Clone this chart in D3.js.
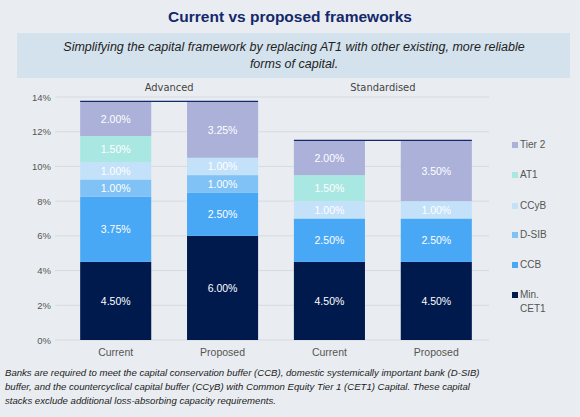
<!DOCTYPE html>
<html><head><meta charset="utf-8">
<script src="https://cdn.jsdelivr.net/npm/d3@7"></script>
<style>body{margin:0;background:#e9edf1;font-family:"Liberation Sans",Arial,sans-serif}</style>
</head><body>
<svg width="580" height="417"></svg>
<script>
var bars = ["Current", "Proposed", "Current ", "Proposed "];
var groups = ["Advanced", "Standardised"];
var series = ["Min. CET1", "CCB", "D-SIB", "CCyB", "AT1", "Tier 2"];
var minCet1 = [4.5, 6.0, 4.5, 4.5];
var ccb = [3.75, 2.5, 2.5, 2.5];
var dsib = [1.0, 1.0, 0, 0];
var ccyb = [1.0, 1.0, 1.0, 1.0];
var at1 = [1.5, 0, 1.5, 0];
var tier2 = [2.0, 3.25, 2.0, 3.5];
var yTicks = [0, 2, 4, 6, 8, 10, 12, 14];
var colors = ["#001a4d", "#48a8f6", "#80c2f6", "#c4e1fa", "#a9e7e2", "#abb1d9"];

var svg = d3.select("svg");
svg.append("rect").attr("width", 580).attr("height", 417).attr("fill", "#e9edf1");
svg.append("text").attr("x", 290).attr("y", 22).attr("text-anchor", "middle")
  .attr("font-size", 15.5).attr("font-weight", "bold").attr("fill", "#14286b")
  .text("Current vs proposed frameworks");
svg.append("rect").attr("x", 17).attr("y", 33).attr("width", 553).attr("height", 45).attr("fill", "#d4e2ed");
svg.append("text").attr("x", 294).attr("y", 51).attr("text-anchor", "middle")
  .attr("font-size", 12.5).attr("font-style", "italic").attr("fill", "#222")
  .text("Simplifying the capital framework by replacing AT1 with other existing, more reliable");
svg.append("text").attr("x", 294).attr("y", 68).attr("text-anchor", "middle")
  .attr("font-size", 12.5).attr("font-style", "italic").attr("fill", "#222")
  .text("forms of capital.");

var x = d3.scaleBand().domain(bars).range([62, 490]).paddingInner(0.335).paddingOuter(0.17);
var y = d3.scaleLinear().domain([0, 14]).range([340, 97]);

var gy = svg.append("g");
yTicks.forEach(function(t) {
  gy.append("line").attr("x1", 55).attr("x2", 489).attr("y1", y(t)).attr("y2", y(t))
    .attr("stroke", "#d6dbe0");
  gy.append("text").attr("x", 51).attr("y", y(t) + 3.5).attr("text-anchor", "end")
    .attr("font-size", 9.5).attr("fill", "#555").text(t + "%");
});

var rows = bars.map(function(b, i) {
  return {bar: b, "Min. CET1": minCet1[i], "CCB": ccb[i], "D-SIB": dsib[i], "CCyB": ccyb[i], "AT1": at1[i], "Tier 2": tier2[i]};
});
var stack = d3.stack().keys(series)(rows);
stack.forEach(function(layer, k) {
  layer.forEach(function(d) {
    if (d[1] - d[0] <= 0) return;
    svg.append("rect").attr("x", x(d.data.bar)).attr("width", x.bandwidth())
      .attr("y", y(d[1])).attr("height", y(d[0]) - y(d[1])).attr("fill", colors[k]);
    svg.append("text").attr("x", x(d.data.bar) + x.bandwidth() / 2).attr("y", (y(d[0]) + y(d[1])) / 2 + 4)
      .attr("text-anchor", "middle").attr("font-size", 10.5).attr("fill", "#fff")
      .text((d[1] - d[0]).toFixed(2) + "%");
  });
});

bars.forEach(function(b) {
  svg.append("text").attr("x", x(b) + x.bandwidth() / 2).attr("y", 356).attr("text-anchor", "middle")
    .attr("font-size", 10.5).attr("fill", "#555").text(b.trim());
});

// group totals and labels
[[0, 1], [2, 3]].forEach(function(p, gi) {
  var top = d3.sum(series.map(function(s) { return rows[p[0]][s]; }));
  var x0 = x(bars[p[0]]), x1 = x(bars[p[1]]) + x.bandwidth();
  svg.append("line").attr("x1", x0).attr("x2", x1).attr("y1", y(top)).attr("y2", y(top))
    .attr("stroke", "#14286b").attr("stroke-width", 1.3);
  svg.append("text").attr("x", (x0 + x1) / 2).attr("y", 91).attr("text-anchor", "middle")
    .attr("font-family", "DejaVu Sans Condensed").attr("font-size", 11).attr("fill", "#444")
    .text(groups[gi]);
});

// legend
var legY = [148, 178, 209, 238, 268, 298];
series.slice().reverse().forEach(function(s, i) {
  var c = colors[series.length - 1 - i];
  svg.append("rect").attr("x", 512).attr("y", legY[i] - 6).attr("width", 6).attr("height", 6).attr("fill", c);
  var parts = s === "Min. CET1" ? ["Min.", "CET1"] : [s];
  parts.forEach(function(t, j) {
    svg.append("text").attr("x", 520).attr("y", legY[i] + j * 14).attr("font-size", 10).attr("fill", "#555").text(t);
  });
});

var foot = ["Banks are required to meet the capital conservation buffer (CCB), domestic systemically important bank (D-SIB)",
  "buffer, and the countercyclical capital buffer (CCyB) with Common Equity Tier 1 (CET1) Capital. These capital",
  "stacks exclude additional loss-absorbing capacity requirements."];
foot.forEach(function(t, i) {
  svg.append("text").attr("x", 5).attr("y", 376 + i * 14).attr("font-size", 9.6).attr("font-style", "italic")
    .attr("fill", "#222").text(t);
});
</script>
</body></html>
